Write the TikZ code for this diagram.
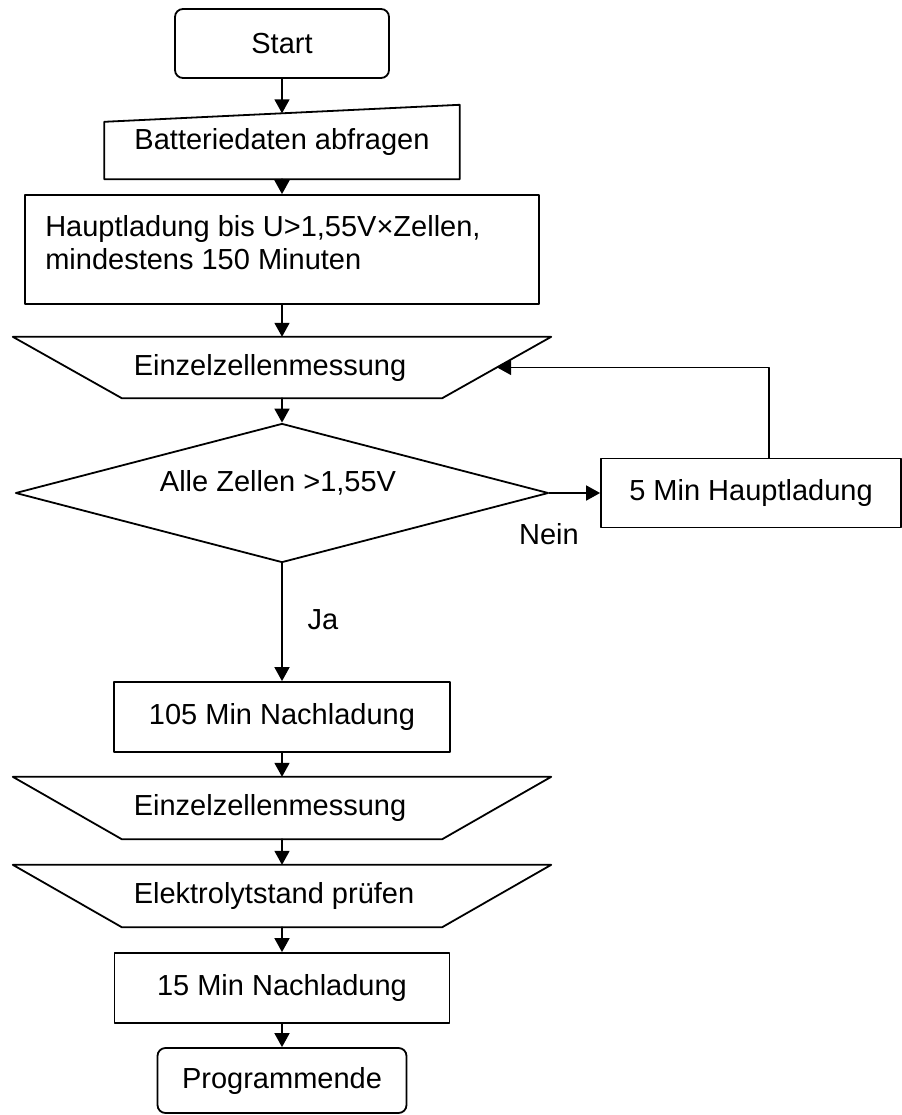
\documentclass[tikz,border=0pt]{standalone}
\usepackage{fontspec}
\setmainfont{Liberation Sans}
\usetikzlibrary{arrows.meta,shapes.geometric}

\begin{document}
\begin{tikzpicture}[x=1bp, y=1bp, line cap=round, line join=round,
  font=\fontsize{29bp}{33bp}\selectfont,
  box/.style={rectangle, draw=black, line width=1.8bp, inner sep=0pt},
  term/.style={box, rounded corners=8bp},
  slot/.style={rectangle, inner sep=0pt},
  outline/.style={draw=black, line width=1.8bp},
  flow/.style={draw=black, line width=1.8bp, -{Triangle[length=14bp, width=15bp]}}]
  \useasboundingbox (0,0) rectangle (902,-1115);
  % main column
  \node[term, minimum width=214bp, minimum height=69bp] (start) at (282,-43.5) {Start};
  \node[slot, minimum width=355bp, minimum height=74bp] (query) at (282,-142) {Batteriedaten abfragen};
  \path[outline] (query.south west) -- (query.south east) -- (query.north east) -- ([yshift=-17bp]query.north west) -- cycle;
  \node[box, minimum width=514bp, minimum height=109bp] (charge) at (282,-249.5) {};
  \node[slot, anchor=north west, align=left] (chargetext) at ([xshift=21bp, yshift=-21bp]charge.north west) {Hauptladung bis U>1,55V×Zellen,\\mindestens 150 Minuten};
  \node[slot, minimum width=538bp, minimum height=61bp,
    label={[xshift=-12bp]center:Einzelzellenmessung}] (cells) at (282,-367.5) {};
  \path[outline] (cells.north west) -- (cells.north east) -- ([xshift=-109bp]cells.south east) -- ([xshift=109bp]cells.south west) -- cycle;
  \node[diamond, draw=black, line width=1.8bp, inner sep=0pt, minimum width=533bp, minimum height=139bp,
    label={[xshift=-4bp, yshift=10bp]center:Alle Zellen >1,55V}] (check) at (282,-493) {};
  \node[box, minimum width=300bp, minimum height=69bp] (extra) at (751,-493) {5 Min Hauptladung};
  \node[box, minimum width=336bp, minimum height=70bp] (post) at (282,-717) {105 Min Nachladung};
  \node[slot, minimum width=538bp, minimum height=62bp,
    label={[xshift=-12bp]center:Einzelzellenmessung}] (cells2) at (282,-808) {};
  \path[outline] (cells2.north west) -- (cells2.north east) -- ([xshift=-109bp]cells2.south east) -- ([xshift=109bp]cells2.south west) -- cycle;
  \node[slot, minimum width=538bp, minimum height=62bp,
    label={[xshift=-8bp]center:Elektrolytstand prüfen}] (level) at (282,-896) {};
  \path[outline] (level.north west) -- (level.north east) -- ([xshift=-109bp]level.south east) -- ([xshift=109bp]level.south west) -- cycle;
  \node[box, minimum width=335bp, minimum height=70bp] (final) at (282,-988) {15 Min Nachladung};
  \node[term, minimum width=249bp, minimum height=65bp] (stop) at (282,-1080.5) {Programmende};
  % branch labels
  \node (no) at (549,-534) {Nein};
  \node (yes) at (323,-620) {Ja};
  % connectors
  \draw[flow] (start.south) -- ([yshift=-8.5bp]query.north);
  \draw[flow] (query.south) -- (charge.north);
  \draw[flow] (charge.south) -- (cells.north);
  \draw[flow] (cells.south) -- (check.north);
  \draw[flow] (check.east) -- (extra.west);
  \draw[flow] ([xshift=18bp]extra.north) |- ([xshift=-54bp]cells.east);
  \draw[flow] (check.south) -- (post.north);
  \draw[flow] (post.south) -- (cells2.north);
  \draw[flow] (cells2.south) -- (level.north);
  \draw[flow] (level.south) -- (final.north);
  \draw[flow] (final.south) -- (stop.north);
\end{tikzpicture}
\end{document}
